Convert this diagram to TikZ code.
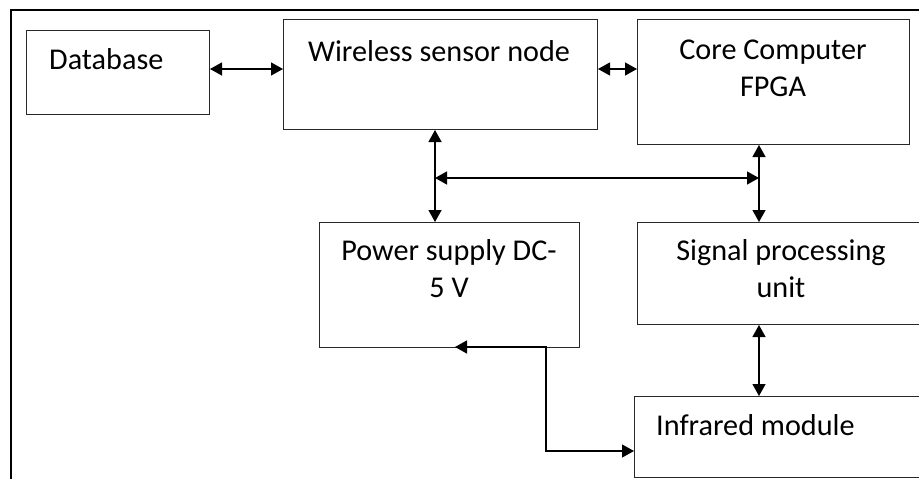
\documentclass[tikz,border=0pt]{standalone}
\usepackage{fontspec}
\setmainfont{Carlito}
\usetikzlibrary{positioning, calc, arrows.meta}
\usepackage{xcolor}
\definecolor{boxline}{RGB}{40,40,40}

\begin{document}
\begin{tikzpicture}[x=1pt, y=-1pt,
    font=\fontsize{30.2}{36.5}\selectfont,
    block/.style={draw=boxline, line width=1pt, inner sep=0pt, anchor=north west},
    txt/.style={inner sep=0pt},
    link/.style={black, line width=1.3pt, {Triangle[length=12pt, width=13pt]}-{Triangle[length=12pt, width=13pt]}}
]
\useasboundingbox (0,0) rectangle (919,479);
\clip (0,0) rectangle (919,479);

% ============ FRAME ============
\draw[line width=2pt] (11,500) -- (11,10) -- (940,10);

% ============ BLOCKS ============
\node[block, minimum width=183pt, minimum height=84pt]  (db)   at (26,30)   {};
\node[block, minimum width=314pt, minimum height=110pt] (wsn)  at (283,19)  {};
\node[block, minimum width=272pt, minimum height=125pt] (core) at (637,19)  {};
\node[block, minimum width=260pt, minimum height=125pt] (pw)   at (319,222) {};
\node[block, minimum width=330pt, minimum height=102pt] (sig)  at (637,222) {};
\node[block, minimum width=330pt, minimum height=81pt]  (ir)   at (634,396) {};

% Labels (base = last line)
\node[txt, anchor=base west] (dbtxt)   at (49,69)  {Database};
\node[txt, anchor=base west] (wsntxt)  at (308,61) {Wireless sensor node};
\node[txt, anchor=base, align=center] (coretxt) at (773,96)  {Core Computer\\FPGA};
\node[txt, anchor=base, align=center] (pwtxt)   at (449,297) {Power supply DC-\\5 V};
\node[txt, anchor=base, align=center] (sigtxt)  at (781,297) {Signal processing\\unit};
\node[txt, anchor=base west] (irtxt)   at (656,435) {Infrared module};

% ============ CONNECTORS ============
\coordinate (busL) at (435,178);
\coordinate (busR) at (759,178);
\coordinate (pwin) at (455,347);
\coordinate (pwout) at (546,347);
\coordinate (irin) at (634,451);

\draw[link] (db.east |- 0,69) -- (wsn.west |- 0,69);
\draw[link] (wsn.east |- 0,69) -- (core.west |- 0,69);
\draw[link] (wsn.south -| busL) -- (pw.north -| busL);
\draw[link] (core.south -| busR) -- (sig.north -| busR);
\draw[link] (busL) -- (busR);
\draw[link] (sig.south -| busR) -- (ir.north -| busR);
\draw[link] (pwin) -- (pwout) |- (irin);

\end{tikzpicture}
\end{document}
